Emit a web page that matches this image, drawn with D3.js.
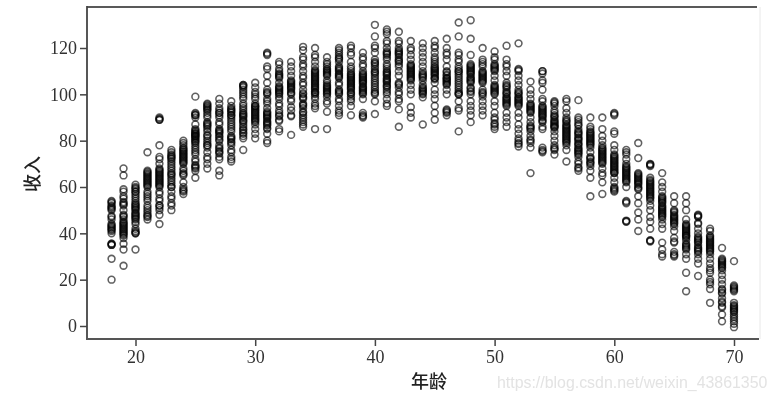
<!DOCTYPE html>
<html><head><meta charset="utf-8">
<script src="https://cdn.jsdelivr.net/npm/d3@7/dist/d3.min.js"></script>
<style>
html,body{margin:0;padding:0;background:#fff;}
svg{display:block;}
text{font-family:"Liberation Serif",serif;}
</style></head><body>
<svg id="c" width="777" height="401"></svg>
<script>
const ages = d3.range(18, 71);
const incomeByAge = [
[20,29,35,35.5,40,41,42,43,44,46,47,50,51,52,53,54],
[26,33,35.5,38,39,40,41,42,43,44,45,46,47,48,50,52,53,55,56,58,59,65,68],
[33,40,40.5,42,44,45,46,47,48,49,50,51,52,53,54,55,56,57,58,59,60,61],
[46,47,48,49,50,52,54,55,56,57,58,60,62,63,64,65,66,67,75],
[44,48,50,51,52,54,55,57,58,60,61,62,63,64,65,66,67,70,72,73,78,89,90],
[50,52,53,55,56,58,60,62,63,64,65,67,69,70,72,73,74,75,76],
[57,58,59,60,62,65,66,67,68,70,71,72,73,74,75,76,77,78,79,80],
[64,67,68,69,71,72,74,75,76,77,78,79,80,82,83,85,87,90,91,92,99],
[68,70,72,73,75,77,78,80,82,84,85,86,87,88,90,91,92,93,94,95,96],
[65,67,72,73,75,77,78,80,82,83,84,85,87,88,90,92,93,94,96,98],
[71,72,73,75,76,78,79,81,82,84,86,87,88,89,91,92,93,95,97],
[76,81,82,83,85,86,87,88,90,92,93,95,96,98,100,101,102,103,104],
[81,83,85,87,88,90,91,92,93,94,95,96,98,100,101,103,105],
[79,80,83,85,87,88,90,91,92,94,96,97,98,100,102,105,108,111,112,117,118],
[84,85,88.5,89,92,93,95,96,98,100,102,103,105,107,108,109,110,111,113,114],
[82.5,91,93,94.5,97,98,100,102,104,105,106,108,110,112,114],
[86,88,90,92,94,95,96,98,100,102,104,105,107,108,110,112,113,115,116,119,120.5],
[85,94,95,96,98,100,101,102,103,104,105,106,107,108,110,112,114,116,117,120],
[85,92.5,96,97,99,100,102,104,105,106,108,109,110,112,113,114,116],
[91,92,93,95,97,98,100,102,104,105,107,108,110,112,114,115,116,118,119,120],
[91,95,97,100,101,103,105,106,107,108,109,110,111,112,114,117,118,120,121],
[90,91,92,98,100,102,103,105,106,107,108,110,112,113,115,116,118],
[91.5,97,100,102,104,106,108,110,111,112,114,115,118,120,121,125,130],
[95,96,98,100,102,104,105,106,108,110,112,113,115,116,118,120,122,123,126,127,128],
[86,93.5,100,101,103,104,108,110,112,113,115,116,118,119,120,122,123,127],
[90,92,94.5,100,102,104,106,108,110,112,113,115,117,119,120,123],
[87,98.7,100,102,104,106,108,110,112,114,116,118,120,122],
[89,92,95,98,100,102,105,107,109,110,112,114,116,118,120,121,123],
[91,92,93,100,102,104,105,107,108,110,112,115,117,118,120,124],
[84,93,94,97,100,101,103,105,107,108,110,112,114,115,117,118,125,131],
[88,91,93,95,97,100,101,103,105,106,107,109,110,112,113,117,124,132],
[91,93,95,97,99,100,102,105,106,108,110,112,114,115,120],
[85,87,89,90,92,95,97,100,102,104,106,108,110,112,113,115,116,118.5],
[86,88,90,92,95,97,99,100,102,104,105,108,110,112,113,115,121],
[77.5,80,81,83,85,87,90,92,95,97,99,100,102,104,106,108,110,111,122],
[66,77,79,82,84,86,88,90,92,94,96,98,100,102,105.5],
[75,76,77,85,86,88,90,91,93,95,97,98,102,106,109,110],
[74,76,78,80,82,84,86,88,90,92,93,95,96,97],
[71,76,78,80,82,84,86,88,90,92,94,97,98],
[67,70,71,73,75,78,80,81,83,85,87,89,90,97.5],
[56,64,67,69,71,73,75,77,79,81,83,85,86,90],
[57,62,65,66,68,70,72,74,76,78,80,82,85,90],
[58,59,60,62,64,66,68,70,72,74,76,78,83,84,91,92],
[45,45.5,53,54,60,62,64,66,68,70,72,74,76],
[41,46,49,53,56,59,61,63,65,66,72.5,79],
[36.5,37,42,45,47,50,52,54,56,58,60,62,64,69,70],
[30,31,33,36,42,44,46,48,50,52,54,56,58,60,62,66],
[30,31,32,36,38,41,43,45,48,50,53,56],
[15,23,29,31,33,35,37,39,41,43,46,50,53,56],
[21.6,27,29,31,33,35,37,40,42,47,48],
[10,16,18,20,23,27,29,31,33,35,37,39,41,42],
[2,5,8,10,12,14,16,18,20,22,24,27,29,33.7],
[-0.5,1,3,5,7,8,9,10,15,16,17,28]
];
const denseIncomeByAge = [
[41.5,42.5,43.5,47.5,50.5,51.5,35,35.5,53.5],
[40.5,41.5,42.5,43.5,44.5,39.5,47.5,52.5,53.5],
[50.5,51.5,52.5,48.5,47.5,46.5,40,41,58,59.5],
[60.5,61,61.5,62.5,63.5,64.5,65.5,66.5,51,47.5],
[60.5,61.5,62.5,63.5,64.5,65.5,66.5,67.5,68,52,89.5,89],
[60,61,66,68,71,72.5,73.5,65.5],
[70.5,71.5,72.5,73.5,74.5,75.5,76.5,65.5,58.5],
[79.5,80.5,81,81.5,82,82.5,83,83.5,84,84.5,91.5,91,68.5,69.5],
[78,79,81,82.5,86.5,87.5,95.5,94.5,93.5],
[80.5,81.5,83.5,84.5,75.5,76.5,74.5,91,92],
[79.5,80.5,81.5,85,90,91,92.5,93.5,94],
[88.5,89,90.5,91,91.5,99,103.5,104,94,84.5,83.5],
[88.5,89,89.5,90.5,91.5,92.5,93.5,94.5,95,99],
[85.5,86.5,87.5,88.5,89.5,90.5,91.5,92.5,100.5,101,117.5],
[99,100.5,101,101.5,102.5,103.5,91,90.5,107.5,108.5],
[100.5,101,102.5,103,103.5,104.5,105.5,90.5],
[91,92.5,95.5,98.5,99,100.5,89,87],
[99,100.5,101,102.5,103.5,104.5,105.5,106.5,107.5,108.5,109,109.5,110.5],
[100.5,101,101.5,102.5,103,103.5,108.5,109.5,110.5,111],
[107.5,108.5,109,110.5,111,111.5,100.5,101,101.5,117,115.5],
[102,102.5,103.5,104,104.5,105.5,106.5,107.5,108.5,98,99,100.5],
[90.5,100.5,101,101.5,102.5,103.5,104.5,105.5,106.5,107.5,108.5,109],
[100.5,101,103,105,107,109,109.5,113,113.5],
[101,103,103.5,105.5,106.5,107,108.5,109,109.5,111,117,117.5,118.5],
[104.5,105,114,114.5,117,117.5,118.5,98,97],
[106.5,107,107.5,108.5,109,109.5,110.5,111,111.5,112.5],
[100.5,101,101.5,102.5,103,107,107.5,108.5,109],
[106.5,107,108,108.5,109.5,110.5,111,111.5,113,115],
[104.5,105.5,106,106.5,107,108.5,109.5,92.5,93.5],
[100.5,100,102,104,106,109,110,111],
[105.5,106.5,107.5,108.5,109.5,110.5,111,111.5,112.5,101.5,102.5],
[105.5,106.5,107,107.5,108.5,109,109.5,100.5,101,113],
[100.5,101,101.5,102.5,103,103.5,110.5,111,111.5,112.5,87.5,86],
[95.5,96,96.5,97.5,98,98.5,100.5,101,103,103.5],
[95.5,96,96.5,97.5,98,98.5,100.5,101,79,78.5,110.5],
[92.5,93,93.5,94.5,95,95.5,85,85.5,86.5,80,80.5],
[90.5,91.5,92,92.5,93.5,94,94.5,88.5,89,75.5,105,110],
[85.5,86,86.5,87,87.5,88.5,89,90.5,91,96.5,77,76.5],
[79,79.5,80.5,81,81.5,82.5,83,83.5,84.5,85,85.5,86.5,87,88.5,89],
[74,74.5,75.5,76,76.5,77,78.5,79,80.5,81.5,82.5,83.5,84,68,68.5,88,86.5],
[78,78.5,79.5,80,80.5,81.5,82,82.5,83.5,84,70,70.5,72,72.5],
[70.5,71,71.5,72.5,73,73.5,74.5,75,75.5,76.5,77],
[66,66.5,67,67.5,68.5,69,69.5,70.5,71,71.5,72.5,73,73.5,58.5,59.5,91.5],
[62.5,63,63.5,64.5,65,65.5,66.5,67,67.5,68.5,69,45.2,53.5,75],
[63.5,64,64.5,62,62.5,61.5,60,59.5,65.5],
[55,55.5,56.5,57,57.5,58.5,59,59.5,60.5,61,61.5,62.5,63,69.5,69.7,36.8],
[53,53.5,54.5,55,55.5,47,47.5,48.5,49,49.5,50.5,51,51.5],
[44,44.5,45.5,46,46.5,47,47.5,49,49.5,30.5,36.5],
[38,38.5,39,39.5,40,40.5,41.5,42,42.5,43.5,44,33.5,34,34.5,35.5],
[36,36.5,37.5,38,38.5,32,32.5,33.5,34,47.7,47.3,44,44.5],
[32,32.5,33.5,34,34.5,35.5,36,36.5,37.5,38,38.5,24,25,19],
[25,25.5,26,26.5,27.5,28,28.5,8.5,14.5,15.5,10.5],
[6,6.5,7.5,8.5,15.5,16.5,17.5,4,2]
];
const xTicks = [20,30,40,50,60,70];
const yTicks = [0,20,40,60,80,100,120];
const xTitle = "年龄";
const yTitle = "收入";
const watermark = "https://blog.csdn.net/weixin_43861350";

const L=87,R=759,T=7,B=339;
const x = d3.scaleLinear().domain([20,70]).range([135.5,734]);
const y = d3.scaleLinear().domain([0,120]).range([326,48]);
const svg = d3.select("#c");
const defs = svg.append("defs");
defs.append("filter").attr("id","soft").attr("x","-5%").attr("y","-5%").attr("width","110%").attr("height","110%")
  .append("feGaussianBlur").attr("stdDeviation",0.55);

const root = svg.append("g").attr("filter","url(#soft)");
const pts = ages.flatMap((a,i)=>incomeByAge[i].concat(denseIncomeByAge[i]).map(v=>({a,v})));
root.append("g").selectAll("circle").data(pts).join("circle")
  .attr("cx",d=>x(d.a)).attr("cy",d=>y(d.v)).attr("r",3.4)
  .attr("fill","none").attr("stroke","#000").attr("stroke-width",1.6).attr("stroke-opacity",0.62);

root.append("line").attr("x1",L).attr("x2",757).attr("y1",T).attr("y2",T).attr("stroke","#222").attr("stroke-width",1.6);
root.append("line").attr("x1",760).attr("x2",760).attr("y1",T).attr("y2",B).attr("stroke","#e8e8e8").attr("stroke-width",1);

const gx = root.append("g").attr("transform",`translate(0,${B})`)
  .call(d3.axisBottom(x).tickValues(xTicks).tickSize(7).tickPadding(4).tickFormat(d3.format("d")));
const gy = root.append("g").attr("transform",`translate(${L},0)`)
  .call(d3.axisLeft(y).tickValues(yTicks).tickSize(7).tickPadding(3).tickFormat(d3.format("d")));
[gx,gy].forEach(g=>{
  g.select(".domain").remove();
  g.selectAll("line").attr("stroke","#444").attr("stroke-width",1.5);
  g.selectAll("text").attr("fill","#333").style("font-size","18px").style("font-family","'Liberation Serif',serif");
});
root.append("line").attr("x1",L).attr("x2",L).attr("y1",T-1).attr("y2",B+1).attr("stroke","#444").attr("stroke-width",1.8);
root.append("line").attr("x1",L-1).attr("x2",R).attr("y1",B).attr("y2",B).attr("stroke","#555").attr("stroke-width",1.8);

root.append("text").attr("x",429).attr("y",388).attr("text-anchor","middle")
  .style("font-family","'Noto Sans CJK SC'").style("font-size","18px").style("font-weight","500").attr("fill","#222").text(xTitle);
root.append("text").attr("transform","translate(39,174) rotate(-90)").attr("text-anchor","middle")
  .style("font-family","'Noto Sans CJK SC'").style("font-size","18px").style("font-weight","500").attr("fill","#222").text(yTitle);
root.append("text").attr("x",497).attr("y",388)
  .style("font-family","'Liberation Sans',sans-serif").style("font-size","15.9px").attr("fill","#e3e3e3").text(watermark);
</script>
</body></html>
